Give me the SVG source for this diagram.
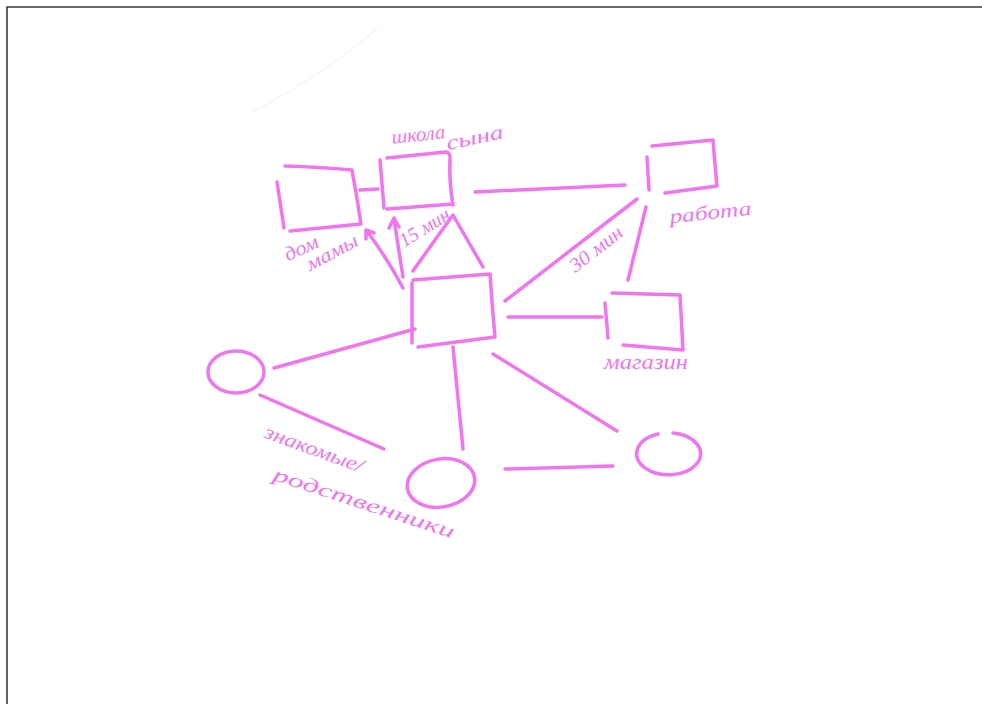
<svg xmlns="http://www.w3.org/2000/svg" width="982" height="704" viewBox="0 0 982 704">
<style>
.pen{fill:none;stroke:#f075ef;stroke-width:3.5;stroke-linecap:round;stroke-linejoin:round}
.lbl{fill:#f075ef;font-family:"Liberation Serif","DejaVu Serif",serif;font-style:italic;font-size:20px}
.frame{fill:none;stroke:#3a3a3a;stroke-width:1.6}
</style>
<rect width="982" height="704" fill="#ffffff"/>
<g id="page">
<path class="frame" d="M7,704 L7,7 L982,7"/>
<path d="M378,28 Q330,70 253,112" fill="none" stroke="#f0f0f0" stroke-width="1"/>
</g>
<g id="connectors">
<path class="pen" d="M360,190 L378,189"/>
<path class="pen" d="M475,192 L625,185"/>
<path class="pen" d="M637,199 L505,301"/>
<path class="pen" d="M646,207 L628,280"/>
<path class="pen" d="M508,317 L602,317"/>
<path class="pen" d="M274,368 L415,329"/>
<path class="pen" d="M260,395 L384,449"/>
<path class="pen" d="M453,347 Q458,400 463,449"/>
<path class="pen" d="M505,469 L613,466"/>
<path class="pen" d="M493,354 L617,431"/>
<path class="pen" d="M403,277 L394,219 M389,228 L394,218 L399,227"/>
<path class="pen" d="M403,288 Q386,256 366,230 M366,239 L366,230 L374,233"/>
<text class="lbl" transform="translate(428,233) rotate(-32)" text-anchor="middle" textLength="56" lengthAdjust="spacingAndGlyphs">15 мин</text>
<text class="lbl" transform="translate(600,254) rotate(-38)" text-anchor="middle" textLength="62" lengthAdjust="spacingAndGlyphs">30 мин</text>
<text class="lbl" transform="translate(312,455) rotate(20)" text-anchor="middle" textLength="104" lengthAdjust="spacingAndGlyphs">знакомые/</text>
<text class="lbl" transform="translate(362,509) rotate(18)" text-anchor="middle" textLength="190" lengthAdjust="spacingAndGlyphs">родственники</text>
</g>
<g id="dom-mamy">
<path class="pen" d="M285,166 Q320,167 352,170 Q357,197 361,224 M290,231 L361,224 M277,182 L284,228"/>
<text class="lbl" transform="translate(304,254) rotate(-25)" text-anchor="middle" textLength="36" lengthAdjust="spacingAndGlyphs">дом</text>
<text class="lbl" transform="translate(335,258) rotate(-28)" text-anchor="middle" textLength="56" lengthAdjust="spacingAndGlyphs">мамы</text>
</g>
<g id="shkola-syna">
<path class="pen" d="M387,158 L446,152 Q451,153 450,160 Q449,182 453,205 M387,209 L453,204 M380,160 L384,208"/>
<text class="lbl" transform="translate(419,141) rotate(-6)" text-anchor="middle" textLength="54" lengthAdjust="spacingAndGlyphs">школа</text>
<text class="lbl" transform="translate(476,144) rotate(-12)" text-anchor="middle" textLength="58" lengthAdjust="spacingAndGlyphs">сына</text>
</g>
<g id="home">
<path class="pen" d="M413,280 L490,274 Q492,305 495,337 M418,347 L495,337 M412,283 L412,343"/>
<path class="pen" d="M413,271 Q432,244 453,215 L483,267"/>
</g>
<g id="rabota">
<path class="pen" d="M652,146 L713,140 Q715,165 717,186 M665,193 L717,186 M647,157 L649,190"/>
<text class="lbl" transform="translate(711,219) rotate(-6)" text-anchor="middle" textLength="82" lengthAdjust="spacingAndGlyphs">работа</text>
</g>
<g id="magazin">
<path class="pen" d="M612,293 L680,295 L683,350 M623,345 L683,350 M605,303 L608,338"/>
<text class="lbl" x="646" y="369" text-anchor="middle" textLength="84" lengthAdjust="spacingAndGlyphs">магазин</text>
</g>
<g id="circle-left">
<ellipse class="pen" cx="236" cy="372" rx="28" ry="21"/>
</g>
<g id="circle-bottom">
<ellipse class="pen" cx="441" cy="483" rx="34" ry="24" transform="rotate(-10 441 483)"/>
</g>
<g id="circle-right">
<path class="pen" d="M673,433 A32,21 0 1 1 658,434"/>
</g>
</svg>
